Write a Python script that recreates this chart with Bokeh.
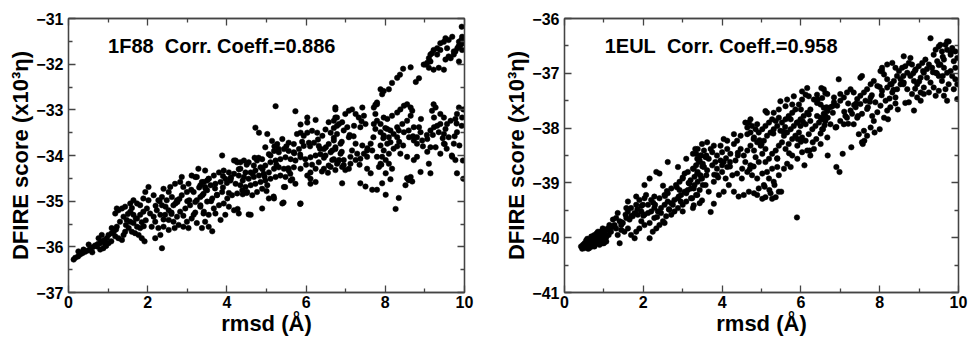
from bokeh.plotting import figure
from bokeh.models import LinearAxis, FixedTicker, Label, Range1d, CustomJSTickFormatter
from bokeh.layouts import row
from bokeh.embed import file_html
from bokeh.resources import INLINE

# ---------------- data ----------------
x_major = [0, 2, 4, 6, 8, 10]
x_minor = [1, 3, 5, 7, 9]

left_y_major = [-37, -36, -35, -34, -33, -32, -31]
left_y_minor = [-36.5, -35.5, -34.5, -33.5, -32.5, -31.5]
right_y_major = [-41, -40, -39, -38, -37, -36]
right_y_minor = [-40.5, -39.5, -38.5, -37.5, -36.5]

left_title = "1F88\u00a0 Corr. Coeff.=0.886"
right_title = "1EUL\u00a0 Corr. Coeff.=0.958"

# 1F88 : rmsd (A) and DFIRE score
rmsd_1f88 = [
 0.13,0.17,0.24,0.29,0.35,0.42,0.49,0.55,0.61,0.67,0.74,0.80,0.84,0.91,0.97,0.88,0.80,0.72,0.93,1.01,
 1.08,1.01,1.09,1.14,1.18,1.26,1.35,1.39,1.43,1.52,1.60,1.68,1.77,1.85,1.92,1.81,1.73,1.64,1.56,1.47,
 1.39,1.30,1.22,1.18,1.26,1.35,1.43,1.56,1.64,1.73,1.81,1.89,1.94,2.02,1.98,1.89,1.81,1.73,1.64,1.56,
 2.06,2.15,2.19,2.27,2.32,2.19,2.10,2.23,2.36,2.48,2.61,2.53,2.40,2.57,2.69,2.82,2.90,2.99,2.86,2.74,
 2.65,2.53,2.44,2.53,2.65,2.74,2.82,2.95,3.07,3.20,3.33,3.41,3.45,3.37,3.24,3.11,3.03,3.16,3.24,3.33,
 3.41,3.45,3.37,3.24,3.11,2.99,2.90,2.78,2.68,2.53,2.40,2.32,2.36,0.38,0.51,0.25,0.76,0.84,1.22,1.09,
 2.02,2.15,2.36,2.27,3.03,3.16,2.86,3.54,3.45,3.28,3.20,
 5.23,5.73,6.03,6.24,6.74,5.86,6.03,6.57,6.74,6.78,4.72,4.81,5.02,5.14,5.27,5.40,5.56,5.69,5.77,5.86,
 5.94,6.03,6.15,6.28,6.41,6.49,6.62,6.70,6.57,6.45,6.32,6.20,6.07,5.94,5.82,5.69,5.56,5.44,5.31,5.19,
 5.06,4.97,4.89,4.76,4.68,4.55,4.43,4.26,4.18,3.88,4.34,4.47,4.60,4.72,4.85,4.97,5.10,5.23,5.35,5.48,
 5.61,5.73,5.86,5.98,6.11,6.24,6.36,6.49,6.62,6.74,6.70,6.57,6.45,6.32,6.24,6.11,6.03,6.11,6.24,6.11,
 5.86,5.69,5.56,5.44,5.31,5.19,5.06,4.93,4.81,4.68,4.55,4.43,4.30,4.18,4.05,3.92,3.80,3.67,3.54,3.42,
 3.33,3.46,3.59,3.71,3.84,3.96,4.09,4.22,4.34,4.47,4.60,4.72,4.85,4.97,5.10,5.23,5.35,5.48,5.61,5.73,
 5.02,4.89,4.76,4.64,4.51,4.39,4.26,4.13,4.01,3.88,3.75,3.63,3.50,3.38,3.33,3.42,3.54,3.67,3.80,3.92,
 4.05,4.18,4.30,3.96,3.84,3.71,4.60,4.89,5.06,5.19,5.40,5.86,5.44,3.54,3.63,4.22,4.34,
 9.94,9.86,9.69,9.60,9.52,9.48,9.39,9.31,9.22,9.18,9.14,9.10,9.06,9.01,9.10,9.22,9.35,9.48,9.52,9.60,
 9.65,9.73,9.77,9.82,9.90,9.94,9.86,9.73,9.56,9.39,9.31,9.14,8.97,8.64,8.45,8.37,8.30,8.17,8.09,7.96,
 7.88,7.92,7.79,7.75,7.71,8.85,8.77,
 6.74,6.70,6.78,6.83,6.91,6.99,7.08,7.16,7.25,7.33,7.42,7.46,7.50,7.37,7.21,7.04,6.95,6.78,6.70,6.74,
 6.87,6.83,6.95,7.08,6.99,6.91,7.12,7.25,7.37,7.46,7.54,7.29,7.16,7.12,6.95,6.78,6.62,6.91,7.37,7.50,
 7.67,7.79,7.92,8.01,8.13,8.34,8.26,8.51,8.59,8.64,8.68,8.55,8.17,8.09,8.01,7.92,7.96,7.88,8.05,8.13,
 8.09,7.96,7.88,7.75,7.71,7.79,7.88,7.96,8.05,8.17,8.30,8.38,8.47,8.55,8.64,8.68,8.64,8.55,8.43,8.30,
 8.34,8.47,8.59,8.72,8.85,8.89,8.80,8.72,8.80,8.93,9.06,9.14,9.23,9.31,9.39,9.52,9.48,9.35,9.23,9.18,
 9.27,9.39,9.48,9.56,9.65,9.81,9.86,9.94,9.81,9.77,9.73,9.69,9.77,9.81,9.14,9.10,8.89,8.80,8.72,8.55,
 8.38,8.21,7.75,7.79,7.54,7.63,7.79,7.84,7.88,8.01,8.09,8.30,8.21,8.13,8.05,7.63,7.67,7.54,7.42,7.25,
 7.08,6.87,6.66,9.39,9.27,9.06,9.14,9.48,9.60,6.74,6.66,
 9.93,9.92,9.97,9.85,9.97,9.93,9.87,9.96,9.97,9.68,9.22,4.55,4.27,5.18,5.43,5.85,5.47,
 1.45,1.70,1.95,2.45,2.75,3.05,3.50,3.75,4.10,4.40,4.65,4.95,5.25,5.55,5.85,6.15,6.45,6.90,7.20,7.55,
 7.95,8.35,8.70,9.05,9.45,9.75,1.20,1.50,1.85,2.60,2.90,3.90,4.05,4.50,5.00,5.65,6.35,6.55,7.35,7.90,
 8.45,8.95,9.55,0.60,0.95,
 3.10,3.30,3.50,3.70,3.90,4.10,4.30,4.50,4.70,4.90,5.10,5.30,5.50,5.70,5.90,6.10,6.30,6.50,6.70,6.90,
 3.20,3.60,4.00,4.40,4.80,5.20,5.60,6.00,6.40,6.80,2.20,2.40,2.60,2.80,3.00,1.60,1.90,2.30,2.70,
 7.10,7.40,7.70,8.00,8.30,8.60,8.90,9.20,9.50,9.80,
]
score_1f88 = [
 -36.28,-36.24,-36.21,-36.17,-36.14,-36.11,-36.08,-36.04,-36.01,-35.97,-35.94,-35.92,-35.88,-35.85,-35.81,-36.03,-36.06,-35.99,-35.95,-35.92,
 -35.88,-35.74,-35.70,-35.67,-35.77,-35.81,-35.85,-35.74,-35.67,-35.59,-35.67,-35.70,-35.74,-35.81,-35.88,-35.59,-35.56,-35.48,-35.45,-35.41,
 -35.34,-35.45,-35.56,-35.27,-35.20,-35.16,-35.12,-35.05,-34.98,-35.05,-35.09,-34.94,-34.80,-34.98,-35.16,-35.23,-35.30,-35.38,-35.30,-35.23,
 -35.27,-35.34,-35.45,-35.59,-35.74,-35.81,-35.56,-35.20,-35.09,-34.98,-34.91,-34.80,-34.73,-34.69,-34.62,-34.58,-34.69,-34.80,-34.87,-34.98,
 -35.09,-35.20,-35.30,-35.41,-35.45,-35.34,-35.23,-35.16,-35.09,-35.02,-34.91,-34.84,-34.69,-34.58,-34.47,-34.44,-34.62,-34.80,-34.98,-35.12,
 -35.27,-35.45,-35.59,-35.48,-35.38,-35.45,-35.56,-35.52,-35.59,-35.63,-35.56,-35.30,-36.03,-36.06,-35.95,-36.10,-35.81,-35.74,-35.16,-35.59,
 -34.69,-34.87,-34.91,-34.98,-35.59,-35.30,-34.47,-34.51,-34.33,-34.29,-34.47,
 -32.92,-33.03,-33.17,-33.22,-32.99,-33.32,-33.28,-33.27,-33.17,-33.35,-33.39,-33.50,-33.53,-33.68,-33.75,-33.64,-33.72,-33.75,-33.53,-33.50,
 -33.57,-33.50,-33.46,-33.50,-33.57,-33.43,-33.50,-33.61,-33.75,-33.86,-33.79,-33.72,-33.72,-33.79,-33.86,-33.93,-33.90,-33.86,-33.93,-33.90,
 -33.97,-33.82,-34.08,-34.11,-34.22,-34.15,-34.11,-34.15,-34.11,-34.00,-34.29,-34.37,-34.37,-34.33,-34.26,-34.22,-34.15,-34.11,-34.08,-34.04,
 -34.08,-34.11,-34.04,-34.08,-34.04,-34.00,-33.97,-34.00,-33.93,-33.86,-34.08,-34.22,-34.29,-34.15,-34.29,-34.37,-34.44,-34.51,-34.58,-34.62,
 -34.29,-34.26,-34.33,-34.29,-34.26,-34.29,-34.37,-34.40,-34.44,-34.47,-34.51,-34.47,-34.44,-34.40,-34.37,-34.33,-34.37,-34.44,-34.51,-34.58,
 -34.65,-34.73,-34.65,-34.62,-34.58,-34.51,-34.55,-34.62,-34.65,-34.69,-34.65,-34.62,-34.58,-34.55,-34.51,-34.47,-34.44,-34.47,-34.55,-34.62,
 -34.65,-34.73,-34.80,-34.87,-34.80,-34.76,-34.83,-34.87,-34.94,-34.80,-34.87,-34.94,-35.01,-34.87,-35.09,-35.23,-35.30,-35.16,-35.09,-35.05,
 -35.12,-35.20,-35.27,-35.30,-35.41,-35.27,-35.30,-35.16,-34.94,-34.94,-35.05,-35.05,-34.69,-35.56,-35.66,-34.11,-34.15,
 -31.40,-31.51,-31.40,-31.47,-31.43,-31.51,-31.54,-31.65,-31.69,-31.76,-31.79,-31.87,-31.97,-32.01,-32.08,-32.12,-32.08,-32.12,-31.90,-31.83,
 -31.87,-31.79,-31.72,-31.65,-31.58,-31.69,-31.94,-31.72,-31.65,-31.69,-31.79,-31.94,-32.01,-32.07,-32.10,-32.23,-32.30,-32.41,-32.55,-32.59,
 -32.55,-32.66,-32.84,-32.89,-32.95,-32.31,-32.39,
 -32.95,-33.24,-33.17,-33.31,-33.27,-33.09,-33.02,-32.99,-33.09,-33.17,-32.95,-33.13,-33.31,-33.38,-33.35,-33.38,-33.45,-33.53,-33.67,-33.82,
 -33.96,-34.10,-34.21,-34.29,-34.32,-34.25,-34.18,-34.10,-34.07,-33.96,-33.89,-33.96,-33.89,-34.03,-34.10,-34.18,-34.25,-34.61,-34.61,-34.68,
 -34.75,-34.75,-34.61,-34.86,-34.52,-34.93,-35.17,-34.65,-34.54,-34.47,-34.57,-34.50,-34.29,-34.18,-34.10,-34.03,-33.89,-33.78,-33.74,-33.71,
 -33.60,-33.56,-33.49,-33.42,-33.31,-33.24,-33.31,-33.17,-33.20,-33.13,-33.06,-32.99,-32.91,-32.88,-32.95,-33.02,-33.13,-33.24,-33.31,-33.38,
 -33.45,-33.49,-33.45,-33.38,-33.38,-33.49,-33.60,-33.67,-33.74,-33.67,-33.64,-33.45,-33.38,-33.35,-33.31,-33.42,-33.53,-33.49,-33.17,-33.02,
 -32.95,-33.09,-33.17,-33.31,-33.24,-33.09,-32.95,-33.17,-33.49,-33.20,-33.74,-34.03,-34.10,-34.39,-34.39,-34.18,-34.36,-34.03,-34.10,-34.03,
 -33.96,-33.85,-33.09,-32.88,-34.29,-34.39,-34.03,-34.25,-34.18,-34.39,-33.96,-33.60,-33.53,-33.45,-33.42,-33.74,-33.89,-34.03,-33.78,-33.74,
 -33.60,-33.74,-33.89,-33.96,-33.82,-33.92,-33.82,-33.74,-33.60,-34.32,-34.10,
 -31.18,-31.47,-31.54,-31.61,-32.99,-33.35,-33.78,-34.11,-34.51,-34.00,-32.88,-35.29,-35.17,-34.90,-35.03,-35.06,-34.69,
 -35.52,-35.38,-35.42,-35.12,-35.02,-34.98,-34.76,-34.86,-34.48,-34.55,-34.40,-34.46,-34.20,-34.28,-33.98,-34.20,-34.05,-33.92,-33.58,-33.84,
 -33.62,-33.70,-33.58,-33.55,-33.62,-33.58,-35.62,-35.28,-35.46,-35.28,-35.32,-34.70,-34.82,-34.82,-34.78,-34.52,-33.85,-34.38,-34.20,-34.20,
 -33.78,-33.80,-33.85,-36.12,-35.98,
 -34.75,-34.70,-34.55,-34.72,-34.45,-34.50,-34.30,-34.20,-34.05,-34.30,-34.00,-33.85,-33.80,-33.95,-33.70,-33.80,-33.65,-33.82,-33.40,-33.70,
 -35.25,-35.00,-34.60,-34.85,-34.05,-33.80,-34.40,-34.20,-34.35,-34.15,-35.10,-35.40,-35.25,-34.95,-35.00,-35.15,-35.55,-35.00,-35.05,
 -33.55,-33.25,-33.60,-33.40,-33.80,-33.60,-33.20,-33.55,-33.75,-33.30,
]

# 1EUL : rmsd (A) and DFIRE score
rmsd_1eul = [
 0.42,0.47,0.51,0.55,0.59,0.63,0.68,0.72,0.76,0.80,0.85,0.89,0.93,0.97,1.02,1.06,1.10,0.51,0.63,0.76,
 0.89,0.97,1.06,0.85,0.97,0.76,0.68,1.10,1.18,1.27,1.23,1.31,1.40,1.48,1.57,1.65,1.73,1.78,1.86,1.95,
 2.03,2.12,2.20,2.28,2.37,2.45,2.54,2.62,2.71,2.79,2.88,2.96,3.05,3.13,3.21,3.30,3.38,3.47,3.51,3.43,
 3.34,3.21,3.09,3.00,2.88,2.79,2.71,2.58,2.50,2.41,2.33,2.24,2.28,2.16,2.03,1.95,1.90,1.82,1.78,1.69,
 1.61,1.52,1.44,1.35,1.40,1.31,1.23,1.14,1.44,1.61,1.69,1.82,1.90,2.03,2.12,2.20,2.28,2.41,2.54,2.62,
 2.71,2.83,2.92,3.00,3.05,3.13,3.26,3.34,3.43,3.34,3.38,3.47,3.26,3.09,2.88,2.62,2.33,2.41,2.16,2.03,
 1.82,1.61,1.57,1.35,2.16,2.07,1.99,2.45,2.54,2.66,2.75,2.92,3.09,3.17,3.30,3.38,3.51,3.00,3.26,3.43,
 0.45,0.50,0.55,0.60,0.65,0.70,0.75,0.80,0.85,0.90,0.95,1.00,1.05,0.55,0.70,0.82,0.95,1.12,1.00,0.62,
 5.90,3.32,3.45,3.41,3.54,3.62,3.66,3.75,3.79,3.87,3.96,4.04,4.13,4.21,4.30,4.38,4.47,4.55,4.64,4.72,
 4.81,4.85,4.93,5.02,5.10,5.19,5.27,5.36,5.44,5.52,5.61,5.69,5.78,5.86,5.95,6.03,6.12,6.20,6.29,6.37,
 6.46,6.54,6.62,6.67,6.58,6.50,6.41,6.33,6.20,6.12,6.03,5.95,5.86,5.78,5.69,5.61,5.52,5.44,5.36,5.27,
 5.19,5.10,5.02,4.93,4.85,4.76,4.68,4.59,4.64,4.72,4.81,4.89,4.98,5.06,5.14,5.23,5.31,5.40,5.48,5.57,
 5.65,5.74,5.82,5.91,5.99,6.07,6.16,6.24,5.10,5.44,5.61,5.78,5.74,5.99,6.12,6.24,6.41,6.54,6.67,6.50,
 6.33,3.28,3.37,3.49,3.58,3.66,3.79,3.87,4.00,4.09,4.17,4.30,4.42,4.55,4.68,4.81,4.93,5.06,5.19,5.31,
 5.44,5.57,5.65,5.74,5.40,5.27,5.14,5.02,4.89,4.76,4.64,4.51,4.38,4.26,4.13,4.00,3.87,3.75,3.62,3.54,
 3.45,3.28,3.37,3.49,3.28,3.24,3.71,3.79,3.92,4.04,5.23,5.36,5.27,5.44,4.89,5.02,5.10,4.64,4.72,4.89,
 5.14,5.31,5.48,5.65,5.82,6.03,6.16,6.41,6.54,6.62,6.24,6.03,5.91,5.78,5.91,6.16,4.47,4.30,4.13,3.96,
 3.71,3.49,3.58,3.37,3.83,4.04,4.34,4.59,4.72,
 9.29,9.75,9.67,9.84,9.92,9.97,9.88,9.80,9.71,9.58,9.50,9.42,9.37,9.46,9.54,9.63,9.71,9.84,9.92,9.97,
 9.88,9.75,9.67,9.58,9.50,9.42,9.33,9.25,9.16,9.08,8.99,8.91,8.82,8.74,8.65,8.57,8.70,8.78,8.87,8.95,
 9.04,9.12,9.20,9.29,9.37,9.50,9.63,9.42,9.25,9.12,9.04,8.95,8.82,8.70,8.61,8.53,8.44,8.36,8.27,8.19,
 8.11,8.02,8.06,8.19,8.32,8.40,8.49,8.61,8.78,8.53,8.44,8.32,8.19,8.06,7.94,7.85,7.77,7.68,7.60,7.51,
 7.43,7.34,7.26,7.17,7.09,7.00,6.92,6.84,6.75,6.67,6.58,6.50,6.62,6.75,6.88,7.00,7.13,7.26,7.39,7.51,
 7.64,7.77,7.89,8.02,8.15,8.27,8.40,7.68,7.55,7.43,7.30,7.17,7.09,7.34,7.81,7.94,8.11,8.19,7.85,7.77,
 7.60,7.47,6.96,7.51,7.55,8.06,8.74,8.87,9.04,9.12,9.71,9.54,9.80,9.92,9.63,7.00,6.84,7.68,7.55,6.67,
 6.58,9.97,9.71,
 6.98,6.90,7.06,6.68,7.28,7.57,7.61,7.87,8.00,8.21,8.46,8.65,6.00,6.43,6.52,5.92,6.09,6.22,6.39,6.56,
 6.68,6.81,5.50,5.33,5.20,5.08,
 1.20,1.45,1.70,1.95,2.25,2.55,2.85,3.15,1.55,1.85,2.35,2.65,2.95,3.60,3.90,4.20,4.50,4.80,5.10,5.40,
 5.70,6.30,6.90,7.20,7.45,7.75,8.05,8.35,8.60,8.85,9.10,9.35,9.60,4.00,4.40,4.95,5.55,6.05,6.65,7.35,
 8.25,8.90,9.45,0.58,0.88,
 2.00,2.30,2.60,2.90,3.20,3.50,3.80,4.10,4.40,4.70,5.00,5.30,5.60,5.90,6.20,6.50,6.80,7.10,7.40,7.70,
 8.00,8.30,8.60,8.90,9.20,9.50,9.80,2.50,3.00,3.60,4.20,4.80,5.40,6.00,6.60,7.20,7.80,8.40,9.00,9.60,
]
score_1eul = [
 -40.16,-40.13,-40.10,-40.17,-40.07,-40.13,-40.04,-40.10,-40.01,-40.07,-39.98,-40.04,-39.95,-40.01,-39.92,-39.98,-39.86,-40.19,-40.19,-40.16,
 -40.13,-40.10,-40.07,-39.89,-39.83,-39.95,-39.98,-39.83,-39.89,-39.77,-39.67,-39.64,-39.70,-39.73,-39.64,-39.67,-39.61,-39.55,-39.58,-39.52,
 -39.58,-39.55,-39.52,-39.46,-39.52,-39.46,-39.40,-39.34,-39.37,-39.31,-39.28,-39.22,-39.16,-39.13,-39.10,-39.04,-38.98,-38.92,-39.04,-39.13,
 -39.22,-39.28,-39.34,-39.40,-39.46,-39.52,-39.58,-39.61,-39.70,-39.77,-39.83,-39.89,-39.64,-39.73,-39.77,-39.70,-39.83,-39.89,-40.01,-39.95,
 -39.83,-39.89,-39.86,-39.95,-40.10,-39.83,-39.80,-39.77,-39.77,-39.52,-39.46,-39.40,-39.31,-39.28,-39.40,-39.31,-39.25,-39.28,-39.22,-39.19,
 -39.10,-39.04,-38.98,-38.92,-38.83,-38.80,-38.74,-38.68,-38.59,-38.47,-38.38,-38.50,-38.47,-38.56,-38.71,-38.62,-38.80,-38.83,-38.92,-39.04,
 -39.25,-39.34,-39.46,-39.55,-40.01,-39.22,-39.40,-39.55,-39.73,-39.49,-39.40,-39.13,-39.19,-39.01,-38.89,-38.80,-38.65,-39.52,-39.46,-39.37,
 -40.20,-40.15,-40.12,-40.20,-40.05,-40.16,-40.10,-40.00,-40.10,-39.90,-40.05,-39.85,-40.00,-40.05,-39.98,-39.92,-39.88,-39.95,-40.10,-40.09,
 -39.63,-38.38,-38.50,-38.62,-38.41,-38.26,-38.56,-38.44,-38.32,-38.50,-38.59,-38.20,-38.38,-38.47,-38.29,-38.23,-38.38,-38.50,-38.41,-38.32,
 -38.41,-38.53,-38.62,-38.47,-38.38,-38.56,-38.47,-38.41,-38.32,-38.26,-38.38,-38.29,-38.20,-38.14,-38.08,-38.17,-38.23,-38.11,-38.02,-37.96,
 -37.90,-37.84,-37.78,-37.69,-37.63,-37.57,-37.54,-37.48,-37.42,-37.39,-37.48,-37.57,-37.66,-37.72,-37.78,-37.84,-37.90,-37.81,-37.87,-37.84,
 -37.90,-37.96,-38.02,-38.08,-38.02,-37.96,-37.90,-37.90,-37.99,-38.08,-38.17,-38.26,-38.32,-38.23,-38.14,-38.08,-38.02,-37.96,-38.05,-38.14,
 -38.08,-38.02,-37.96,-37.90,-37.84,-37.78,-37.72,-37.66,-37.69,-37.66,-37.60,-37.57,-37.84,-37.96,-37.93,-37.87,-37.78,-38.02,-38.17,-38.29,
 -38.38,-38.74,-38.83,-38.92,-39.04,-39.16,-38.98,-38.86,-38.80,-38.92,-39.04,-39.16,-39.25,-39.22,-39.16,-39.19,-39.10,-39.04,-38.92,-38.98,
 -38.86,-38.74,-38.65,-38.71,-38.71,-38.74,-38.80,-38.83,-38.92,-38.86,-38.80,-38.74,-38.83,-38.86,-38.71,-38.68,-38.74,-38.68,-38.77,-38.71,
 -38.86,-39.10,-39.22,-39.32,-39.41,-39.28,-39.53,-39.38,-39.22,-39.16,-39.19,-39.26,-39.29,-39.16,-39.22,-39.29,-39.26,-38.11,-37.84,-37.93,
 -37.72,-37.72,-37.51,-37.48,-37.42,-37.33,-37.27,-37.39,-37.45,-37.36,-38.50,-38.44,-38.56,-38.50,-38.32,-38.41,-38.14,-38.11,-38.23,-38.32,
 -38.38,-38.29,-38.53,-38.56,-38.62,-38.62,-38.59,-38.62,-38.68,
 -36.36,-36.42,-36.48,-36.54,-36.60,-36.72,-36.78,-36.66,-36.57,-36.60,-36.51,-36.57,-36.66,-36.78,-36.84,-36.90,-36.99,-37.05,-37.11,-37.20,
 -37.29,-37.20,-37.29,-37.14,-37.05,-36.99,-36.90,-36.84,-36.75,-36.81,-36.87,-36.93,-36.84,-36.81,-36.87,-36.90,-36.99,-37.05,-37.14,-37.20,
 -37.08,-36.99,-37.08,-37.17,-37.26,-37.32,-37.41,-37.41,-37.35,-37.26,-37.35,-37.44,-37.38,-37.29,-37.17,-37.11,-37.05,-37.14,-37.20,-37.11,
 -37.02,-36.96,-36.90,-36.84,-36.81,-36.90,-36.96,-36.69,-36.72,-37.20,-37.29,-37.35,-37.26,-37.32,-37.23,-37.14,-37.20,-37.29,-37.35,-37.41,
 -37.47,-37.35,-37.29,-37.35,-37.44,-37.50,-37.59,-37.53,-37.62,-37.68,-37.74,-37.81,-37.87,-37.93,-37.99,-37.87,-37.78,-37.68,-37.62,-37.56,
 -37.50,-37.44,-37.53,-37.59,-37.50,-37.62,-37.44,-37.65,-37.74,-37.81,-37.74,-37.81,-37.93,-37.93,-37.78,-37.71,-37.81,-37.68,-37.87,-37.99,
 -38.05,-38.11,-37.11,-37.08,-37.05,-36.96,-37.53,-37.68,-37.50,-37.38,-36.42,-36.48,-36.96,-36.90,-36.75,-37.38,-37.44,-38.14,-38.26,-37.38,
 -37.29,-37.47,-37.50,
 -38.80,-38.71,-38.47,-38.50,-38.35,-38.29,-38.23,-38.08,-38.02,-37.84,-37.66,-37.54,-37.66,-37.48,-37.27,-38.20,-38.68,-38.41,-38.20,-38.02,
 -37.81,-37.72,-39.16,-39.04,-39.13,-39.07,
 -39.80,-39.72,-39.60,-39.42,-39.36,-39.24,-39.08,-39.00,-39.58,-39.48,-39.62,-39.48,-39.34,-38.86,-38.90,-38.62,-38.92,-38.70,-38.62,-38.56,
 -38.46,-38.26,-37.98,-37.92,-37.78,-37.52,-37.40,-37.30,-37.20,-37.00,-36.96,-36.98,-36.70,-38.44,-38.50,-38.22,-38.06,-37.88,-37.62,-37.58,
 -37.46,-37.28,-37.00,-40.02,-39.94,
 -39.60,-39.40,-39.15,-39.25,-38.95,-38.70,-38.85,-38.55,-38.45,-38.75,-38.30,-38.10,-37.98,-37.90,-37.75,-38.10,-37.60,-37.70,-37.55,-37.62,
 -37.25,-37.20,-37.05,-36.95,-36.92,-36.85,-36.62,-39.05,-38.90,-38.50,-38.70,-38.20,-38.55,-38.25,-37.95,-37.55,-37.40,-37.55,-37.15,-37.05,
]

FONT = "Liberation Sans"
FRAME = "#444444"
BLANK = CustomJSTickFormatter(code="return ''")


def panel(xs, ys, y_lo, y_hi, y_major, y_minor, note, note_x, note_y,
          width, b_left, b_right):
    p = figure(width=width, height=338, output_backend="svg", toolbar_location=None,
               x_range=Range1d(0, 10), y_range=Range1d(y_lo, y_hi),
               min_border_left=b_left, min_border_right=b_right,
               min_border_top=18, min_border_bottom=43,
               background_fill_color="white", border_fill_color="white")
    p.grid.visible = False
    p.outline_line_color = FRAME
    p.outline_line_width = 1.3
    p.scatter(xs, ys, marker="circle", size=5.5, fill_color="black",
              line_color="black", line_width=0.5)

    xt = FixedTicker(ticks=x_major, minor_ticks=x_minor)
    yt = FixedTicker(ticks=y_major, minor_ticks=y_minor)

    bottom = p.below[0]
    left = p.left[0]
    bottom.ticker = xt
    bottom.axis_label = "rmsd (Å)"
    left.ticker = yt
    left.axis_label = "DFIRE score (x10³η)"

    top = LinearAxis(ticker=xt, formatter=BLANK, major_label_standoff=0)
    right = LinearAxis(ticker=yt, formatter=BLANK, major_label_standoff=0)
    p.add_layout(top, "above")
    p.add_layout(right, "right")

    for ax in (bottom, left, top, right):
        ax.axis_line_color = FRAME
        ax.axis_line_width = 1.3
        ax.major_tick_line_color = FRAME
        ax.minor_tick_line_color = FRAME
        ax.major_tick_line_width = 1.3
        ax.minor_tick_line_width = 1.3
        ax.major_tick_in = 7
        ax.major_tick_out = 0
        ax.minor_tick_in = 4
        ax.minor_tick_out = 0
    for ax in (bottom, left):
        ax.major_label_text_font = FONT
        ax.major_label_text_font_style = "bold"
        ax.major_label_text_font_size = "16px"
        ax.major_label_text_color = "black"
        ax.axis_label_text_font = FONT
        ax.axis_label_text_font_style = "bold"
        ax.axis_label_text_font_size = "22px"
        ax.axis_label_text_color = "black"
    bottom.major_label_standoff = 3
    bottom.axis_label_standoff = 0
    left.major_label_standoff = 5
    left.axis_label_standoff = 0

    p.add_layout(Label(x=note_x, y=note_y, text=note, text_font=FONT,
                       text_font_style="bold", text_font_size="20px",
                       text_color="black", text_baseline="middle"))
    return p


p1 = panel(rmsd_1f88, score_1f88, -37, -31, left_y_major, left_y_minor,
           left_title, 1.0, -31.6, 484, 68, 20)
p2 = panel(rmsd_1eul, score_1eul, -41, -36, right_y_major, right_y_minor,
           right_title, 1.02, -36.5, 484, 80, 10)

layout = row(p1, p2)
open("out.html", "w").write(file_html(layout, INLINE))
